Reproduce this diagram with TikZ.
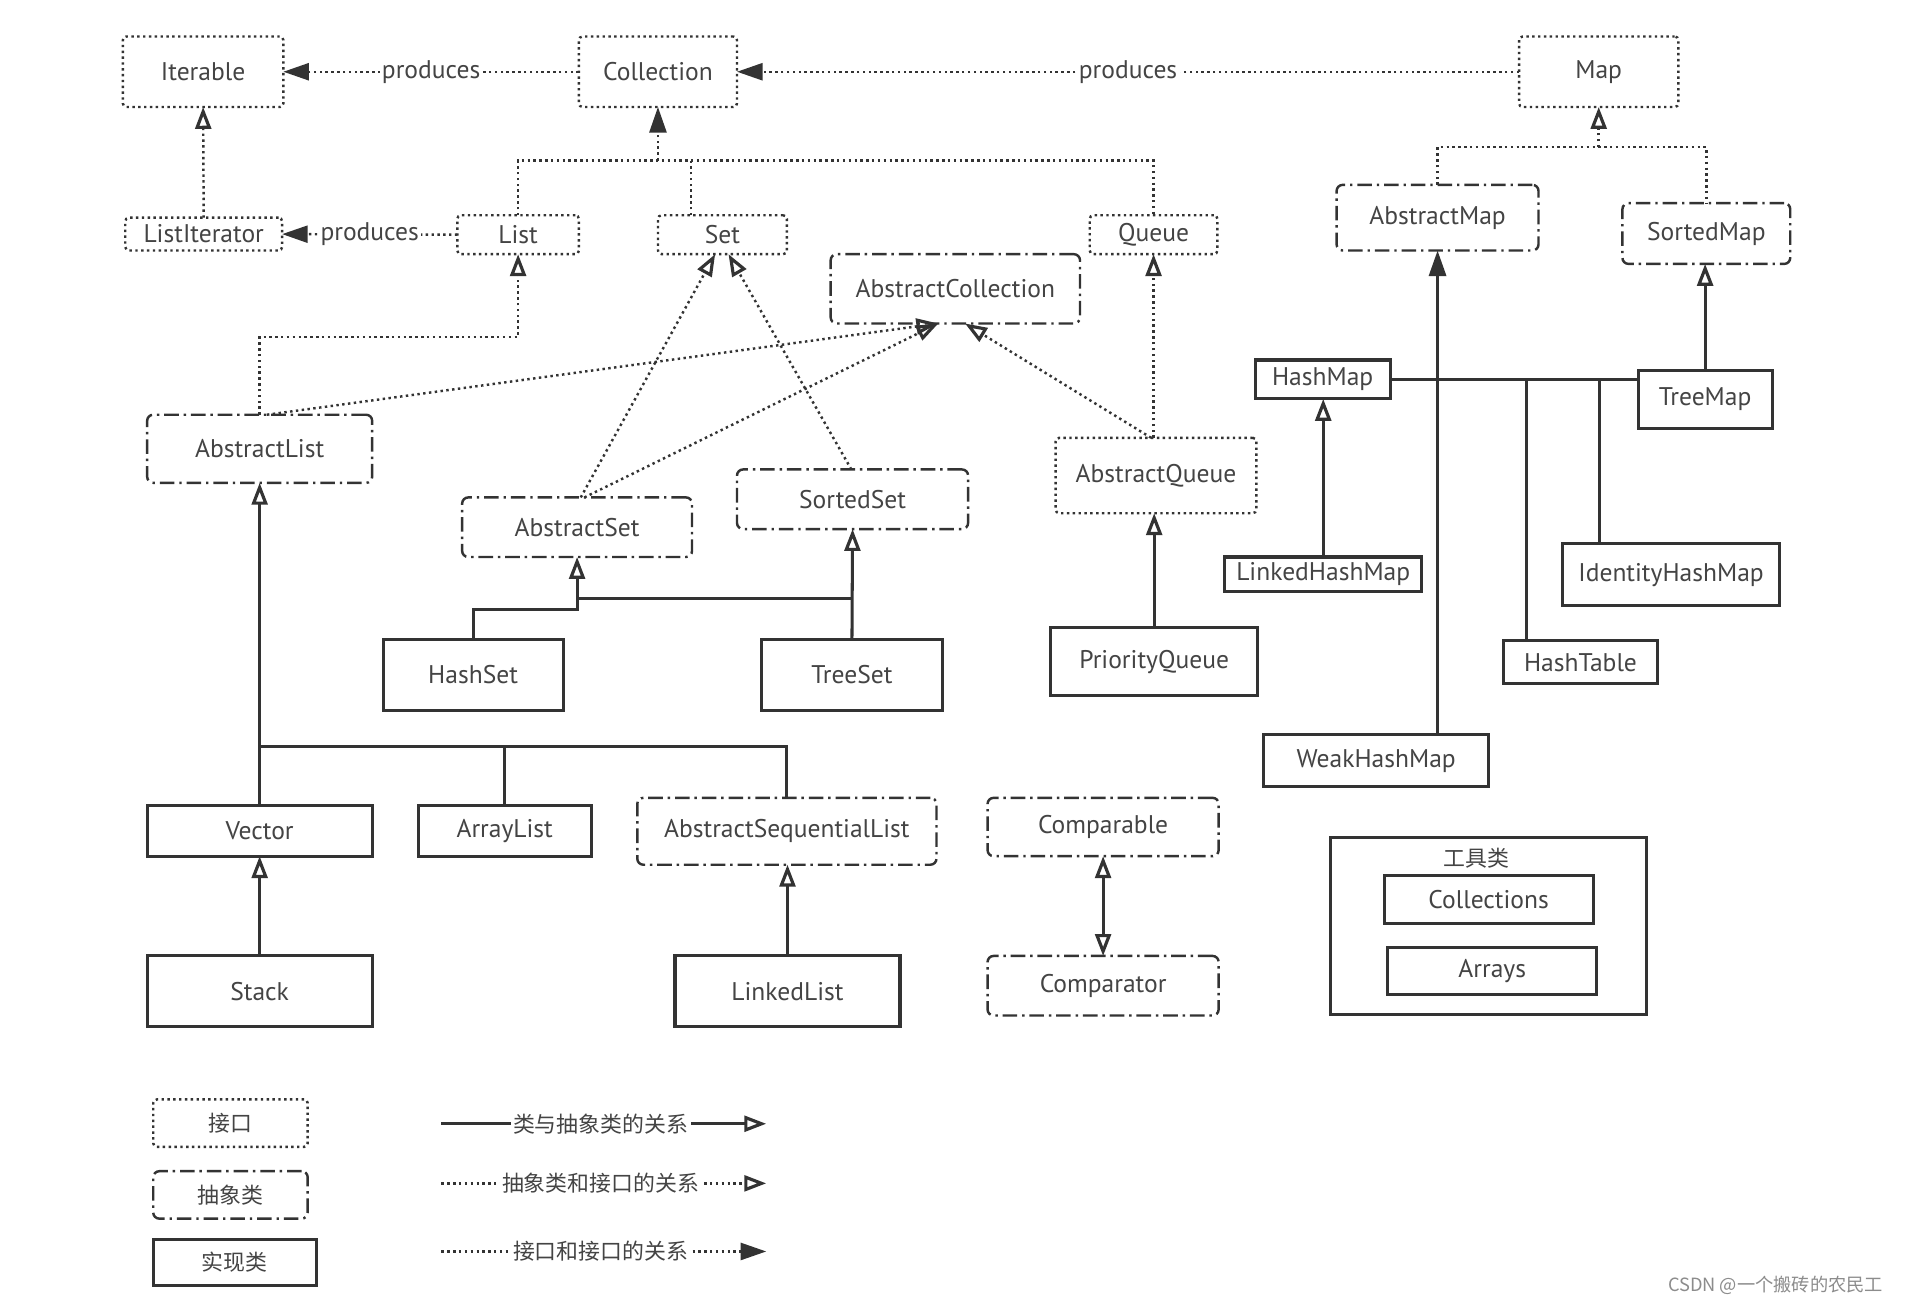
\documentclass[tikz,border=0pt]{standalone}
\usepackage{fontspec}
\setmainfont{PT Sans}
\newfontfamily\cjk{Noto Sans CJK SC}
\usetikzlibrary{arrows.meta,calc}
\definecolor{ink}{HTML}{333333}
\definecolor{txt}{HTML}{444444}
\begin{document}
\begin{tikzpicture}[x=0.5pt,y=-0.5pt,
  every node/.style={font=\fontsize{10.5}{12}\selectfont, text=txt, inner sep=0pt, outer sep=0pt},
  sz/.style 2 args={minimum width=#1, minimum height=#2},
  iface/.style={draw=ink, line width=1pt, dash pattern=on 1pt off 1.4pt, rounded corners=1.5pt},
  abst/.style={draw=ink, line width=1pt, dash pattern=on 6pt off 2pt on 1pt off 2pt, rounded corners=2.5pt},
  impl/.style={draw=ink, line width=1.25pt},
  dotl/.style={draw=ink, line width=1pt, dash pattern=on 1pt off 1.4pt},
  soll/.style={draw=ink, line width=1.25pt},
  opentri/.style={arrows={-Triangle[open,length=9pt,width=6.5pt,line width=1.3pt]}},
  filltri/.style={arrows={-Triangle[length=10.5pt,width=7pt]}},
  dbltri/.style={arrows={Triangle[open,length=9pt,width=6.5pt,line width=1.3pt]-Triangle[open,length=9pt,width=6.5pt,line width=1.3pt]}},
  lbl/.style={fill=white, inner xsep=1pt, inner ysep=1pt},
  cjkf/.style={font=\cjk\fontsize{9}{11}\selectfont},
]
\fill[white] (0,0) rectangle (1568,1074);
\useasboundingbox (0,0) rectangle (1568,1074);

% ---------- interfaces ----------
\node[iface, sz={66pt}{29pt}] (iter) at (167,59) {Iterable};
\node[iface, sz={65pt}{29pt}] (coll) at (541,59) {Collection};
\node[iface, sz={65.5pt}{29pt}] (map) at (1314.5,59) {Map};
\node[iface, sz={64.5pt}{13.5pt}] (litr) at (167.5,192.5) {ListIterator};
\node[iface, sz={50pt}{16pt}] (list) at (426,193) {List};
\node[iface, sz={53pt}{16pt}] (set) at (594,193) {Set};
\node[iface, sz={52.5pt}{16pt}] (queue) at (948.5,193) {Queue};
\node[iface, sz={82.5pt}{31pt}] (aqueue) at (950.5,391) {AbstractQueue};

% ---------- abstract classes ----------
\node[abst, sz={83pt}{27pt}] (amap) at (1182,179) {AbstractMap};
\node[abst, sz={69pt}{25pt}] (smap) at (1403,192) {SortedMap};
\node[abst, sz={102.5pt}{28.5pt}] (acoll) at (785.5,237.5) {AbstractCollection};
\node[abst, sz={92.5pt}{28pt}] (alist) at (213.5,369) {AbstractList};
\node[abst, sz={94.5pt}{24.5pt}] (aset) at (474.5,433.5) {AbstractSet};
\node[abst, sz={95pt}{24.5pt}] (sset) at (701,410.5) {SortedSet};
\node[abst, sz={123pt}{27.5pt}] (aseq) at (647,683.5) {AbstractSequentialList};
\node[abst, sz={95pt}{24pt}] (cmpa) at (907,680) {Comparable};
\node[abst, sz={95pt}{24.5pt}] (cmpt) at (907,810.5) {Comparator};

% ---------- implementation classes ----------
\node[impl, sz={74pt}{29pt}] (hset) at (389,555) {HashSet};
\node[impl, sz={74.5pt}{29pt}] (tset) at (700.5,555) {TreeSet};
\node[impl, sz={85pt}{28pt}] (pq) at (949,544) {PriorityQueue};
\node[impl, sz={55.5pt}{16pt}] (hmap) at (1087.5,312) {HashMap};
\node[impl, sz={55pt}{23.5pt}] (tmap) at (1402,328.5) {TreeMap};
\node[impl, sz={81pt}{14pt}] (lhm) at (1088,472) {LinkedHashMap};
\node[impl, sz={89pt}{25.5pt}] (ihm) at (1374,472.5) {IdentityHashMap};
\node[impl, sz={63.5pt}{17.5pt}] (htab) at (1299.5,544.5) {HashTable};
\node[impl, sz={92.5pt}{21.5pt}] (whm) at (1131.5,625.5) {WeakHashMap};
\node[impl, sz={92.5pt}{21pt}] (vec) at (213.5,683) {Vector};
\node[impl, sz={71pt}{21pt}] (alst) at (415,683) {ArrayList};
\node[impl, sz={92.5pt}{29pt}] (stack) at (213.5,815) {Stack};
\node[impl, sz={92.5pt}{29pt}] (llist) at (647.5,815) {LinkedList};

% ---------- tool classes ----------
\node[impl, sz={130pt}{72.5pt}] (tools) at (1224,761.5) {};
\node[cjkf] (toolt) at (1214,706) {工具类};
\node[impl, sz={86pt}{19.5pt}] (colls) at (1224,739.5) {Collections};
\node[impl, sz={86pt}{19.5pt}] (arrs) at (1227,798.5) {Arrays};

% ---------- junction coordinates ----------
\coordinate (cj) at (541,132);
\coordinate (mj) at (1314.5,121);
\coordinate (lj) at (426,277);
\coordinate (hsj) at (474.5,501);
\coordinate (tsj) at (474.5,492);
\coordinate (vj) at (213.5,614);

% ---------- interface connectors ----------
\draw[dotl, filltri] (coll.west) -- node[lbl] {produces} (iter.east);
\draw[dotl, filltri] (map.west) -- node[lbl] {produces} (coll.east);
\draw[dotl, filltri] (list.west) -- node[lbl] {produces} (litr.east);
\draw[dotl, opentri] (litr.north) -- (iter.south);
\draw[dotl, filltri] (cj) -- (coll.south);
\draw[dotl] (list.north) -- (list.north |- cj) -- (queue.north |- cj) -- (queue.north);
\draw[dotl] ([xshift=-13pt]set.north) -- ([xshift=-13pt]set.north |- cj);
\draw[dotl, opentri] (mj) -- (map.south);
\draw[dotl] (amap.north) -- (amap.north |- mj) -- (smap.north |- mj) -- (smap.north);

% ---------- abstract to interface ----------
\draw[dotl, opentri] (alist.north) |- (lj) -- (list.south);
\draw[dotl, opentri] ([xshift=3pt]alist.north) -- ([xshift=-7pt]acoll.south);
\draw[dotl, opentri] ([xshift=1.5pt]aset.north) -- ([xshift=-3pt]set.south);
\draw[dotl, opentri] ([xshift=-0.5pt]sset.north) -- ([xshift=2.5pt]set.south);
\draw[dotl, opentri] ([xshift=3pt]aset.north) -- ([xshift=-7pt]acoll.south);
\draw[dotl, opentri] ([xshift=-1pt]aqueue.north) -- (queue.south |- aqueue.north) -- (queue.south);
\draw[dotl, opentri] ([xshift=-2pt]aqueue.north) -- ([xshift=4pt]acoll.south);

% ---------- class to abstract class ----------
\draw[soll, opentri] (hset.north) |- (hsj) -- (aset.south);
\draw[soll] (tset.north |- tsj) -- (tsj);
\draw[soll, opentri] (tset.north) -- (sset.south);
\draw[soll, opentri] (pq.north) -- (pq.north |- aqueue.south);
\draw[soll, filltri] (amap.south |- whm.north) -- (amap.south);
\draw[soll] (hmap.east) -- (hmap.east -| tmap.west);
\draw[soll] ([xshift=-29.5pt]ihm.north) -- ([xshift=-29.5pt]ihm.north |- hmap.east);
\draw[soll] ([xshift=-22.25pt]htab.north) -- ([xshift=-22.25pt]htab.north |- hmap.east);
\draw[soll, opentri] (lhm.north) -- (lhm.north |- hmap.south);
\draw[soll, opentri] (tmap.north) -- (tmap.north |- smap.south);
\draw[soll, opentri] (vec.north) -- (alist.south);
\draw[soll] (vj) -- (aseq.north |- vj) -- (aseq.north);
\draw[soll] (alst.north) -- (alst.north |- vj);
\draw[soll, opentri] (stack.north) -- (vec.south);
\draw[soll, opentri] (llist.north) -- (llist.north |- aseq.south);
\draw[soll, dbltri] (cmpa.south) -- (cmpt.north);

% ---------- legend ----------
\node[iface, sz={63.5pt}{19.5pt}, cjkf] (lg1) at (189.5,923.5) {接口};
\node[abst, sz={63.5pt}{19.5pt}, cjkf] (lg2) at (189.5,982.5) {抽象类};
\node[impl, sz={67pt}{19pt}, cjkf] (lg3) at (193,1038) {实现类};
\coordinate (la1) at (363,924);
\coordinate (lb1) at (630,924);
\coordinate (la2) at (363,973);
\coordinate (lb2) at (630,973);
\coordinate (la3) at (363,1029);
\coordinate (lb3) at (630,1029);
\draw[soll, opentri] (la1) -- node[lbl, cjkf, pos=0.49] {类与抽象类的关系} (lb1);
\draw[dotl, opentri] (la2) -- node[lbl, cjkf, pos=0.49] {抽象类和接口的关系} (lb2);
\draw[dotl, filltri] (la3) -- node[lbl, cjkf, pos=0.49] {接口和接口的关系} (lb3);

% ---------- watermark ----------
\node[font=\cjk\fontsize{7.5}{9}\selectfont, text=black!45] (wm) at (1460,1057) {CSDN @一个搬砖的农民工};
\end{tikzpicture}
\end{document}
